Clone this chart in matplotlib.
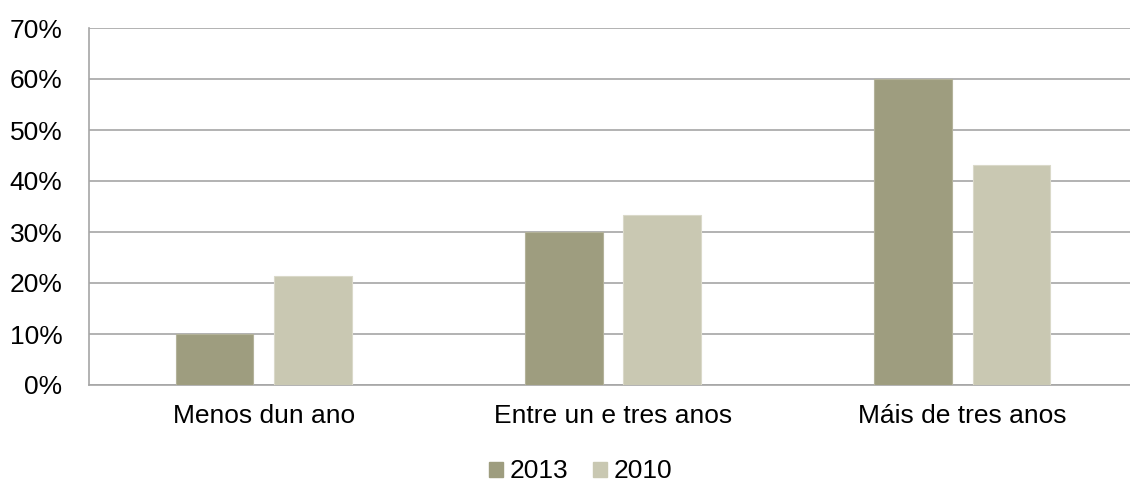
import matplotlib
matplotlib.use("Agg")
import matplotlib.pyplot as plt
from matplotlib.ticker import FuncFormatter
from matplotlib.patches import Patch
import numpy as np

categories = ["Menos dun ano", "Entre un e tres anos", "Máis de tres anos"]
series_names = ["2013", "2010"]
values_2013 = [10.0, 30.0, 60.0]
values_2010 = [21.4, 33.3, 43.1]
colors = ["#9E9D7F", "#C9C8B2"]
edgecolors = ["#B3B29A", "#DAD9C9"]

plt.rcParams['font.family'] = ['Liberation Sans', 'DejaVu Sans']

fig = plt.figure(figsize=(11.30, 4.82), dpi=100)
# plot area extends slightly beyond the right image edge, as in the reference
ax = fig.add_axes([89/1130, 1 - 385/482, (1137-89)/1130, (385-28)/482])

x = np.arange(len(categories))
w = 0.222
off = 0.141
ax.bar(x - off, values_2013, w, color=colors[0], edgecolor=edgecolors[0], linewidth=0.8, zorder=3)
ax.bar(x + off, values_2010, w, color=colors[1], edgecolor=edgecolors[1], linewidth=0.8, zorder=3)

ax.set_xlim(-0.5, 2.5)
ax.set_ylim(0, 70)
ax.set_yticks(np.arange(0, 71, 10))
ax.yaxis.set_major_formatter(FuncFormatter(lambda v, p: f"{int(v)}%"))
ax.set_xticks(x)
ax.set_xticklabels(categories)
ax.tick_params(axis='both', length=0, labelsize=19, colors="#000000")
ax.tick_params(axis='y', pad=19)
ax.tick_params(axis='x', pad=14)
ax.grid(axis='y', color="#A6A6A6", linewidth=1.2, zorder=0)
for s in ["top", "right"]:
    ax.spines[s].set_visible(False)
for s in ["left", "bottom"]:
    ax.spines[s].set_color("#A6A6A6")
    ax.spines[s].set_linewidth(1.2)

handles = [Patch(facecolor=colors[i], edgecolor=colors[i]) for i in range(2)]
fig.legend(handles, series_names, loc="center", bbox_to_anchor=(0.514, 0.022), ncol=2,
           frameon=False, fontsize=19, handlelength=0.5, handleheight=0.5,
           handletextpad=0.27, columnspacing=0.95, borderpad=0, borderaxespad=0)

fig.savefig("out.png", dpi=100)
